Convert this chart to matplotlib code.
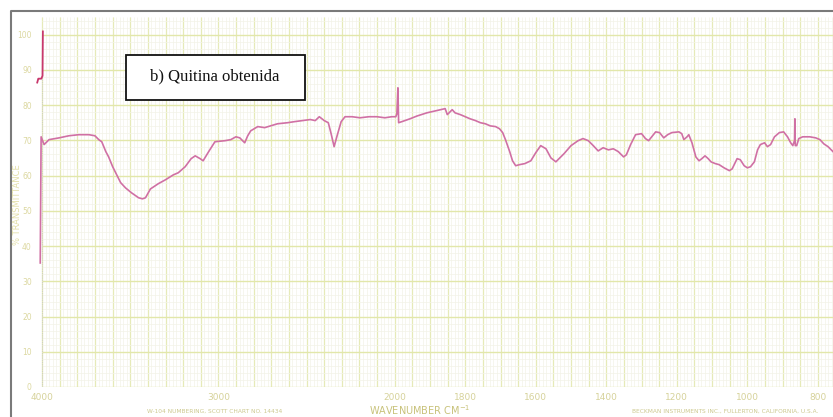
"""IR spectrum of chitin drawn on a Beckman-style chart grid."""

import numpy as np
import matplotlib
matplotlib.use("Agg")
import matplotlib.pyplot as plt
from matplotlib.patches import Rectangle
from matplotlib.lines import Line2D

# main trace: wavenumber (cm-1) and % transmittance
wavenumber = [
    4011, 4006, 3989, 3961, 3904, 3848, 3792, 3735, 3701, 3679, 3662, 3639,
    3623, 3600, 3583, 3555, 3527, 3493, 3453, 3431, 3414, 3386, 3341, 3301,
    3256, 3228, 3189, 3155, 3132, 3104, 3087, 3053, 3020, 2963, 2930, 2901,
    2879, 2851, 2834, 2817, 2777, 2738, 2665, 2608, 2569, 2524, 2479, 2451,
    2428, 2400, 2377, 2361, 2344, 2327, 2304, 2282, 2242, 2197, 2146, 2101,
    2056, 2017, 1997, 1994, 1991, 1989, 1980, 1957, 1937, 1909, 1871, 1857,
    1851, 1837, 1829, 1814, 1800, 1786, 1771, 1757, 1743, 1729, 1714, 1703,
    1694, 1686, 1674, 1666, 1657, 1646, 1631, 1614, 1600, 1586, 1571, 1557,
    1543, 1531, 1520, 1500, 1480, 1466, 1451, 1437, 1423, 1409, 1394, 1380,
    1366, 1351, 1343, 1331, 1317, 1300, 1289, 1280, 1260, 1249, 1237, 1226,
    1214, 1194, 1186, 1180, 1171, 1166, 1157, 1146, 1137, 1129, 1120, 1111,
    1103, 1091, 1080, 1066, 1051, 1043, 1029, 1020, 1009, 1000, 991, 980,
    971, 963, 951, 943, 934, 923, 909, 897, 886, 877, 871, 866, 865, 864,
    860, 854, 843, 823, 806, 794, 783, 771, 757,
]
transmittance = [
    35.2, 71.0, 68.8, 70.2, 70.7, 71.3, 71.6, 71.6, 71.3, 70.2, 69.6, 66.8,
    65.3, 62.5, 60.8, 58.0, 56.5, 55.1, 53.7, 53.4, 53.7, 56.2, 57.7, 58.8,
    60.2, 60.8, 62.5, 64.8, 65.6, 64.8, 64.2, 67.0, 69.6, 69.9, 70.2, 71.0,
    70.7, 69.3, 71.3, 72.7, 73.9, 73.6, 74.7, 75.0, 75.3, 75.6, 75.9, 75.6,
    76.7, 75.6, 75.0, 71.9, 68.2, 71.3, 75.3, 76.7, 76.7, 76.4, 76.7, 76.7,
    76.4, 76.7, 76.7, 77.5, 84.9, 75.0, 75.3, 76.1, 76.9, 77.8, 78.7, 79.0,
    77.3, 78.7, 77.8, 77.3, 76.7, 76.1, 75.6, 75.0, 74.7, 74.1, 73.9, 73.3,
    72.2, 70.2, 66.8, 64.2, 62.8, 63.1, 63.4, 64.2, 66.5, 68.5, 67.6, 65.0,
    63.9, 65.1, 66.2, 68.5, 69.9, 70.5, 69.9, 68.5, 67.0, 67.9, 67.3, 67.6,
    66.8, 65.3, 65.9, 68.8, 71.6, 71.9, 70.5, 69.9, 72.4, 72.2, 70.7, 71.6,
    72.2, 72.4, 71.9, 70.2, 71.0, 71.6, 69.3, 65.3, 64.2, 64.8, 65.6, 64.8,
    63.9, 63.4, 63.1, 62.2, 61.4, 61.9, 64.8, 64.5, 62.8, 62.2, 62.5, 63.9,
    67.3, 68.8, 69.3, 68.2, 68.8, 71.0, 72.2, 72.4, 71.0, 69.3, 68.5, 70.0,
    76.1, 68.5, 68.5, 70.5, 71.0, 71.0, 70.7, 70.2, 69.0, 68.2, 66.8,
]

# pen set-down marks at the start of the run
pen_wavenumber = [4028, 4022, 4016, 4005, 3998, 3997, 3996]
pen_transmittance = [86.4, 87.5, 87.5, 87.5, 88.3, 95.0, 100.9]

xtick_values = [4000, 3000, 2000, 1800, 1600, 1400, 1200, 1000, 800]
ytick_values = [0, 10, 20, 30, 40, 50, 60, 70, 80, 90, 100]

W, H = 833, 417


# chart abscissa: linear above 2000 cm-1, doubled scale below it
def forward(w):
    w = np.asarray(w, dtype=float)
    return np.where(w >= 2000, w, 2 * w - 2000)


def inverse(u):
    u = np.asarray(u, dtype=float)
    return np.where(u >= 2000, u, (u + 2000) / 2)


fig = plt.figure(figsize=(W / 100, H / 100), dpi=100)
fig.patch.set_facecolor("white")
ax = fig.add_axes([36 / W, 30 / H, (W - 36) / W, (387 - 17) / H])
ax.set_xscale("function", functions=(forward, inverse))
ax.set_xlim(4035, 757)
ax.set_ylim(0, 105)
ax.set_facecolor("white")
for s in ax.spines.values():
    s.set_visible(False)

# chart paper ruling
fine_x = np.concatenate([np.arange(4000, 2000, -20), np.arange(2000, 750, -10)])
bold_x = np.concatenate([np.arange(4000, 2000, -100), np.arange(2000, 750, -50)])
ax.vlines(fine_x, 0, 105, color="#f3f3e8", lw=0.5, zorder=1)
ax.vlines(bold_x, 0, 105, color="#e6eab8", lw=0.9, zorder=1)
ax.hlines(np.arange(0, 105, 2), 4000, 757, color="#f3f3e8", lw=0.5, zorder=1)
ax.hlines(np.arange(0, 101, 10), 4000, 757, color="#e2e7aa", lw=1.0, zorder=1)
ax.vlines([4000], 0, 100, color="#cfcfc2", lw=0.8, ls=(0, (1, 1)), zorder=1)

ax.plot(wavenumber, transmittance, color="#d070a4", lw=1.2, zorder=3)
ax.plot(pen_wavenumber, pen_transmittance, color="#c8386c", lw=1.3, zorder=3)

ax.set_xticks(xtick_values)
ax.set_xticklabels([str(v) for v in xtick_values])
ax.set_yticks(ytick_values)
ax.set_yticklabels([str(v) for v in ytick_values])
ax.tick_params(axis="x", length=0, pad=4, labelsize=6.5, labelcolor="#d6d29a")
ax.tick_params(axis="y", length=0, pad=3, labelsize=5.5, labelcolor="#dcd8a0")
ax.minorticks_off()

# printed chart captions
fig.text(18 / W, 1 - 205 / H, "% TRANSMITTANCE", rotation=90, ha="center",
         va="center", fontsize=6, color="#e2dea6")
fig.text(420 / W, 1 - 410 / H, "WAVENUMBER CM$^{-1}$", ha="center", va="center",
         fontsize=7, color="#c8c27a")
fig.text(215 / W, 1 - 411 / H, "W-104 NUMBERING, SCOTT CHART NO. 14434",
         ha="center", va="center", fontsize=4.2, color="#ccc88e")
fig.text(725 / W, 1 - 411 / H, "BECKMAN INSTRUMENTS INC., FULLERTON, CALIFORNIA, U.S.A.",
         ha="center", va="center", fontsize=4.2, color="#ccc88e")

# label box
fig.patches.append(Rectangle((126 / W, 1 - 100 / H), 179 / W, 45 / H,
                             transform=fig.transFigure, facecolor="white",
                             edgecolor="#111111", lw=1.3, zorder=5))
fig.text(215 / W, 1 - 76 / H, "b) Quitina obtenida", ha="center", va="center",
         fontsize=12, family="Liberation Serif", color="#111111", zorder=6)

# scan border
fig.lines.append(Line2D([11 / W, 11 / W, 1], [0, 1 - 11 / H, 1 - 11 / H],
                        transform=fig.transFigure, color="#7a7a7a", lw=1.5))

fig.savefig("out.png", dpi=100)
